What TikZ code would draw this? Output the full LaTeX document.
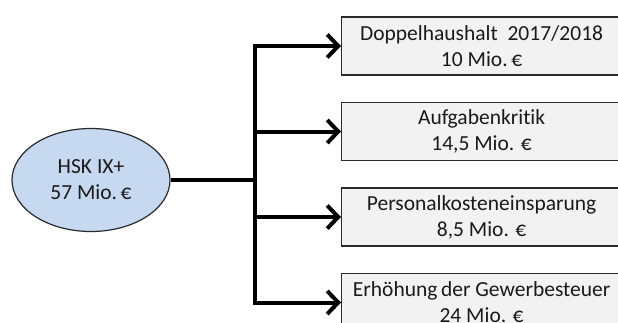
\documentclass[tikz,border=0pt]{standalone}
\usepackage{fontspec}
\setmainfont{Carlito}[Ligatures={TeX,NoCommon}]
\usetikzlibrary{arrows.meta,shapes.geometric}
\definecolor{ellfill}{HTML}{C6D9F1}
\definecolor{boxfill}{HTML}{F2F2F2}
\definecolor{edge}{HTML}{2A2A2A}
\definecolor{txt}{HTML}{1A1A1A}
\tikzset{
  lbl/.style={font=\fontsize{21.5}{26}\selectfont, text=txt, align=center},
  ovalnode/.style={lbl, ellipse, draw=edge, line width=1.2pt, fill=ellfill,
    minimum width=158pt, minimum height=103pt, inner sep=0pt},
  boxnode/.style={lbl, rectangle, draw=edge, line width=1.2pt, fill=boxfill,
    minimum width=280pt, minimum height=58pt, inner sep=0pt, anchor=west},
  conn/.style={line width=4pt, draw=black, line join=miter},
  arr/.style={conn, -{Straight Barb[length=11pt,width=23pt]}}
}
\begin{document}
\begin{tikzpicture}[x=1pt,y=-1pt]
\useasboundingbox (0,0) rectangle (618,322);
\begin{scope}
\clip (0,0) rectangle (618,322);
\node[ovalnode] (hsk) at (91,180) {HSK IX+\\57 Mio.\,€};
\node[boxnode] (b1) at (341,46) {Doppelhaushalt\ \ 2017/2018\\10 Mio.\,€};
\node[boxnode] (b2) at (341,131.5) {Aufgabenkritik\\14,5 Mio. €};
\node[boxnode] (b3) at (341,217) {Personalkosteneinsparung\\8,5 Mio. €};
\node[boxnode] (b4) at (341,302.5) {Erhöhung\,der Gewerbesteuer\\24 Mio. €};
\coordinate (j) at (255,180);
\draw[conn] (hsk.east) -- (j);
\draw[arr] (j) -- (j |- b1.west) -- (b1.west);
\draw[arr] (j) -- (j |- b4.west) -- (b4.west);
\draw[arr] (j |- b2.west) -- (b2.west);
\draw[arr] (j |- b3.west) -- (b3.west);
\end{scope}
\end{tikzpicture}
\end{document}
